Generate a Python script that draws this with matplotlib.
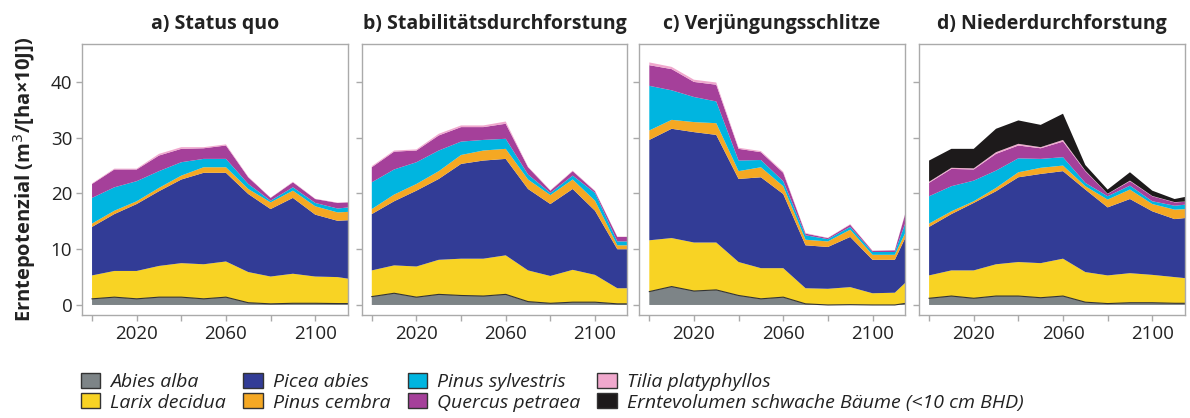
import matplotlib
matplotlib.use("Agg")
import matplotlib.pyplot as plt
import numpy as np
from matplotlib.patches import Patch

plt.rcParams['font.family'] = ['Open Sans', 'DejaVu Sans']

# Jahre (letzter Punkt = rechter Rand)
years = [2000, 2010, 2020, 2030, 2040, 2050, 2060, 2070, 2080, 2090, 2100, 2110, 2115]

species = ['Abies alba', 'Larix decidua', 'Picea abies', 'Pinus cembra',
           'Pinus sylvestris', 'Quercus petraea', 'Tilia platyphyllos',
           'Erntevolumen schwache Bäume (<10 cm BHD)']
colors = ['#7d8487', '#f8d324', '#323c96', '#f5a823', '#00b5e0', '#a5409a', '#f0a8cd', '#1d1a1b']

titles = ['a) Status quo', 'b) Stabilitätsdurchforstung',
          'c) Verjüngungsschlitze', 'd) Niederdurchforstung']

# a) Status quo
a_abies  = [1.1, 1.4, 1.1, 1.4, 1.4, 1.1, 1.4, 0.4, 0.2, 0.3, 0.3, 0.25, 0.25]
a_larix  = [4.2, 4.7, 5.0, 5.6, 6.1, 6.2, 6.4, 5.5, 4.9, 5.3, 4.8, 4.75, 4.45]
a_picea  = [8.7, 10.2, 12.0, 13.4, 15.0, 16.4, 15.9, 14.0, 12.1, 13.6, 11.1, 10.1, 10.5]
a_cembra = [0.6, 0.6, 0.5, 0.6, 0.7, 1.0, 1.0, 0.9, 1.2, 1.3, 1.5, 1.5, 1.5]
a_sylv   = [4.6, 4.2, 3.6, 3.0, 2.4, 1.5, 1.5, 0.9, 0.3, 0.6, 0.6, 0.7, 0.8]
a_querc  = [2.5, 3.2, 2.1, 2.8, 2.4, 1.9, 2.4, 1.2, 0.5, 0.9, 0.7, 1.0, 0.9]
a_tilia  = [0.1, 0.15, 0.15, 0.3, 0.3, 0.2, 0.2, 0.1, 0.05, 0.1, 0.05, 0.05, 0.05]

# b) Stabilitaetsdurchforstung
b_abies  = [1.5, 2.1, 1.4, 1.9, 1.7, 1.6, 1.9, 0.6, 0.3, 0.5, 0.5, 0.2, 0.2]
b_larix  = [4.7, 5.0, 5.5, 6.2, 6.6, 6.7, 7.0, 5.6, 4.9, 5.8, 4.9, 2.8, 2.8]
b_picea  = [10.1, 11.5, 13.6, 14.5, 17.0, 17.6, 17.3, 14.6, 12.9, 14.5, 11.5, 7.0, 7.0]
b_cembra = [0.9, 1.2, 1.2, 1.4, 1.6, 1.8, 1.8, 1.7, 1.6, 1.7, 1.8, 0.7, 0.7]
b_sylv   = [4.8, 4.5, 3.9, 3.7, 2.4, 1.9, 1.8, 0.9, 0.4, 0.7, 1.4, 0.7, 0.7]
b_querc  = [2.7, 3.2, 2.1, 2.7, 2.6, 2.3, 2.7, 1.3, 0.4, 0.8, 0.3, 0.8, 0.8]
b_tilia  = [0.2, 0.2, 0.2, 0.3, 0.3, 0.3, 0.4, 0.1, 0.1, 0.1, 0.1, 0.05, 0.05]

# c) Verjuengungsschlitze
c_abies  = [2.4, 3.3, 2.5, 2.7, 1.7, 1.1, 1.4, 0.2, 0.0, 0.05, 0.0, 0.0, 0.3]
c_larix  = [9.2, 8.7, 8.7, 8.5, 6.0, 5.5, 5.2, 2.8, 2.9, 3.15, 2.1, 2.2, 3.8]
c_picea  = [18.0, 19.6, 19.8, 19.3, 14.9, 16.3, 13.3, 7.7, 7.5, 9.0, 6.0, 5.9, 8.2]
c_cembra = [1.7, 1.6, 1.8, 2.1, 1.4, 1.8, 1.4, 1.0, 1.0, 1.3, 0.9, 0.9, 0.9]
c_sylv   = [8.0, 5.3, 4.5, 3.9, 1.9, 1.3, 0.9, 0.8, 0.4, 0.5, 0.5, 0.5, 1.8]
c_querc  = [3.7, 3.8, 2.7, 3.0, 2.1, 1.4, 1.5, 0.3, 0.2, 0.4, 0.2, 0.3, 1.8]
c_tilia  = [0.5, 0.4, 0.4, 0.4, 0.2, 0.2, 0.2, 0.1, 0.05, 0.1, 0.05, 0.05, 0.1]

# d) Niederdurchforstung
d_abies  = [1.2, 1.6, 1.2, 1.6, 1.6, 1.3, 1.6, 0.5, 0.25, 0.4, 0.4, 0.3, 0.3]
d_larix  = [4.1, 4.6, 5.0, 5.7, 6.1, 6.2, 6.7, 5.4, 5.05, 5.3, 5.0, 4.7, 4.5]
d_picea  = [8.7, 10.1, 12.1, 13.1, 15.2, 16.0, 15.7, 14.8, 12.2, 13.3, 11.4, 10.4, 10.8]
d_cembra = [0.6, 0.5, 0.3, 0.6, 0.9, 1.1, 1.0, 0.6, 1.4, 1.7, 1.3, 1.7, 1.6]
d_sylv   = [4.9, 4.5, 3.7, 3.1, 2.5, 1.6, 1.5, 0.6, 0.6, 0.7, 0.5, 0.7, 0.8]
d_querc  = [2.4, 3.1, 2.0, 3.0, 2.3, 1.9, 2.8, 2.1, 0.4, 0.8, 0.9, 0.6, 0.5]
d_tilia  = [0.2, 0.2, 0.2, 0.3, 0.3, 0.2, 0.3, 0.1, 0.05, 0.1, 0.05, 0.05, 0.05]
d_black  = [3.8, 3.4, 3.5, 4.2, 4.2, 4.0, 4.7, 1.0, 0.75, 1.5, 0.95, 0.55, 0.85]

panels = [
    [a_abies, a_larix, a_picea, a_cembra, a_sylv, a_querc, a_tilia],
    [b_abies, b_larix, b_picea, b_cembra, b_sylv, b_querc, b_tilia],
    [c_abies, c_larix, c_picea, c_cembra, c_sylv, c_querc, c_tilia],
    [d_abies, d_larix, d_picea, d_cembra, d_sylv, d_querc, d_tilia, d_black],
]

fig = plt.figure(figsize=(11.9, 4.18), dpi=100)
lefts = [0.0689, 0.3040, 0.5372, 0.7723]
bottom, height = 0.2464, 0.6483

for i, layers in enumerate(panels):
    ax = fig.add_axes([lefts[i], bottom, 0.2232, height])
    ax.stackplot(years, *layers, colors=colors[:len(layers)], linewidth=0)
    # duenne dunkle Linie auf der Abies-Schicht
    ax.plot(years, layers[0], color='#333333', lw=0.8)
    ax.set_xlim(1995.5, 2114.5)
    ax.set_ylim(-1.8, 46.8)
    ax.set_xticks([2000, 2020, 2040, 2060, 2080, 2100])
    ax.set_xticklabels(['', '2020', '', '2060', '', '2100'])
    ax.set_yticks([0, 10, 20, 30, 40])
    if i == 0:
        ax.set_yticklabels(['0', '10', '20', '30', '40'])
        ax.set_ylabel('Erntepotenzial (m$^3$/[ha×10J])', fontsize=14.5,
                      fontweight='bold', color='#222222', labelpad=9)
    else:
        ax.set_yticklabels([])
    for s in ax.spines.values():
        s.set_color('#aaaaaa')
        s.set_linewidth(1.0)
    ax.tick_params(colors='#aaaaaa', labelcolor='#222222', labelsize=13.5,
                   length=4, width=1.0, pad=3)
    ax.set_title(titles[i], fontsize=14, fontweight='bold', color='#222222', pad=11)

handles = [Patch(facecolor=c, edgecolor='#333333', linewidth=1.0) for c in colors]
fig.legend(handles, species, loc='upper left', bbox_to_anchor=(0.068, 0.107),
           ncol=4, frameon=False, prop={'style': 'italic', 'size': 14},
           handlelength=1.0, handleheight=0.8, handletextpad=0.5,
           columnspacing=0.9, labelspacing=0.1, borderaxespad=0, borderpad=0,
           labelcolor='#222222')

fig.savefig('out.png', dpi=100)
